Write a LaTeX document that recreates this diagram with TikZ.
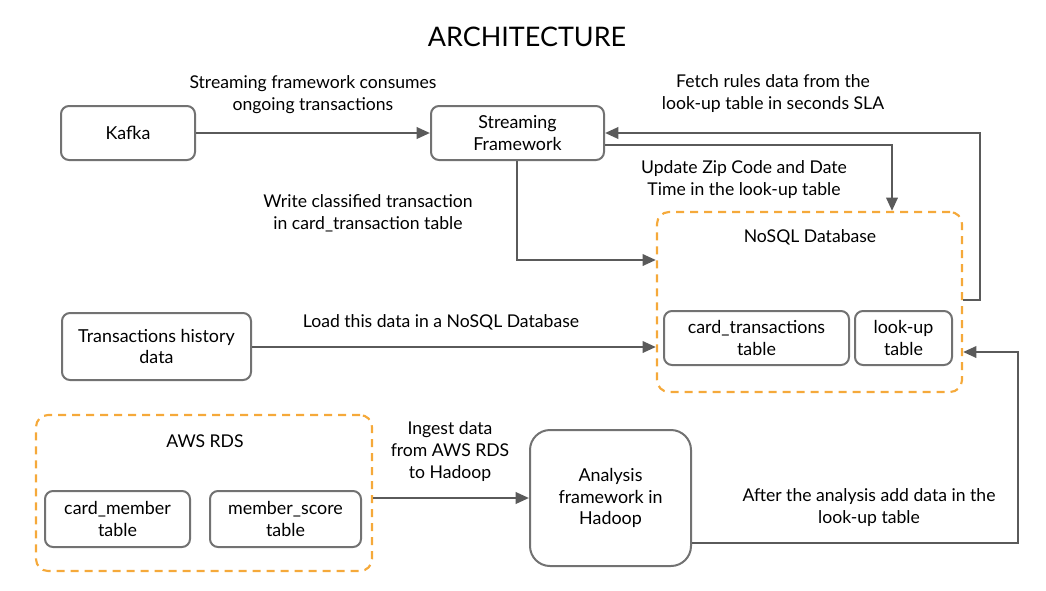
\documentclass[tikz,border=0pt]{standalone}
\usepackage{fontspec}
\setmainfont{Lato}
\usetikzlibrary{arrows.meta}
\definecolor{linegray}{HTML}{5A5A5A}
\definecolor{boxgray}{HTML}{727272}
\definecolor{dashorange}{HTML}{F5A93A}
\tikzset{
  box/.style={draw=boxgray, line width=1.5pt, rounded corners=6pt, fill=white, align=center, inner sep=0pt,
    font=\fontsize{13.4}{16}\selectfont},
  group/.style={draw=dashorange, line width=1.6pt, dash pattern=on 6pt off 4.5pt, rounded corners=9pt, inner sep=0pt},
  conn/.style={draw=linegray, line width=1.9pt, -{Triangle[length=10pt,width=8.5pt]}},
  lbl/.style={align=center, font=\fontsize{13.2}{16.5}\selectfont, inner sep=0pt},
}
\begin{document}
\begin{tikzpicture}[x=0.75pt,y=-0.75pt]
\useasboundingbox (0,0) rectangle (1046,590);
\node[font=\fontsize{20.2}{24}\selectfont] (title) at (527,37) {ARCHITECTURE};

% groups
\node[group, minimum width=228.75pt, minimum height=135pt] (nosql) at (809.5,302) {};
\node[lbl] (nosqlt) at (810,237) {NoSQL Database};
\node[group, minimum width=252pt, minimum height=117pt] (aws) at (204,493) {};
\node[lbl] (awst) at (205,441) {AWS RDS};

% boxes
\node[box, minimum width=100.5pt, minimum height=40.5pt] (kafka) at (128,133) {Kafka};
\node[box, minimum width=129.75pt, minimum height=40.5pt] (sf) at (517.5,133) {Streaming\\Framework};
\node[box, minimum width=138.75pt, minimum height=40.5pt] (ct) at (756.5,338) {card\_transactions\\table};
\node[box, minimum width=72.75pt, minimum height=40.5pt] (lu) at (903.5,338) {look-up\\table};
\node[box, minimum width=141.75pt, minimum height=50.25pt] (th) at (156.5,346.5) {Transactions history\\data};
\node[box, minimum width=108.75pt, minimum height=42pt] (cm) at (117.5,519) {card\_member\\table};
\node[box, minimum width=113.25pt, minimum height=42pt] (ms) at (285.5,519) {member\_score\\table};
\node[box, rounded corners=15pt, minimum width=120.75pt, minimum height=102pt] (an) at (610.5,498) {Analysis\\framework in\\Hadoop};

% connectors
\draw[conn] (kafka.east) -- (sf.west);
\coordinate (c1) at (980,300);
\coordinate (c2) at (980,133);
\draw[conn] (nosql.east |- c1) -- (c1) -- (c2) -- (sf.east);
\coordinate (c3) at (892,145);
\draw[conn] (sf.east |- c3) -- (c3) -- (c3 |- nosql.north);
\coordinate (c4) at (517,260);
\draw[conn] (c4 |- sf.south) -- (c4) -- (nosql.west |- c4);
\coordinate (c5) at (600,347);
\draw[conn] (th.east |- c5) -- (nosql.west |- c5);
\coordinate (c6) at (450,498);
\draw[conn] (aws.east |- c6) -- (an.west |- c6);
\coordinate (c7) at (1018,543);
\coordinate (c8) at (1018,352);
\draw[conn] (an.east |- c7) -- (c7) -- (c8) -- (nosql.east |- c8);

% labels
\node[lbl] (l1) at (313,95) {Streaming framework consumes\\ongoing transactions};
\node[lbl] (l2) at (368,213) {Write classified transaction\\in card\_transaction table};
\node[lbl] (l3) at (773,94) {Fetch rules data from the\\look-up table in seconds SLA};
\node[lbl] (l4) at (744,180) {Update Zip Code and Date\\Time in the look-up table};
\node[lbl] (l5) at (441,322) {Load this data in a NoSQL Database};
\node[lbl] (l6) at (450,452) {Ingest data\\from AWS RDS\\to Hadoop};
\node[lbl] (l7) at (869,508) {After the analysis add data in the\\look-up table};
\end{tikzpicture}
\end{document}
